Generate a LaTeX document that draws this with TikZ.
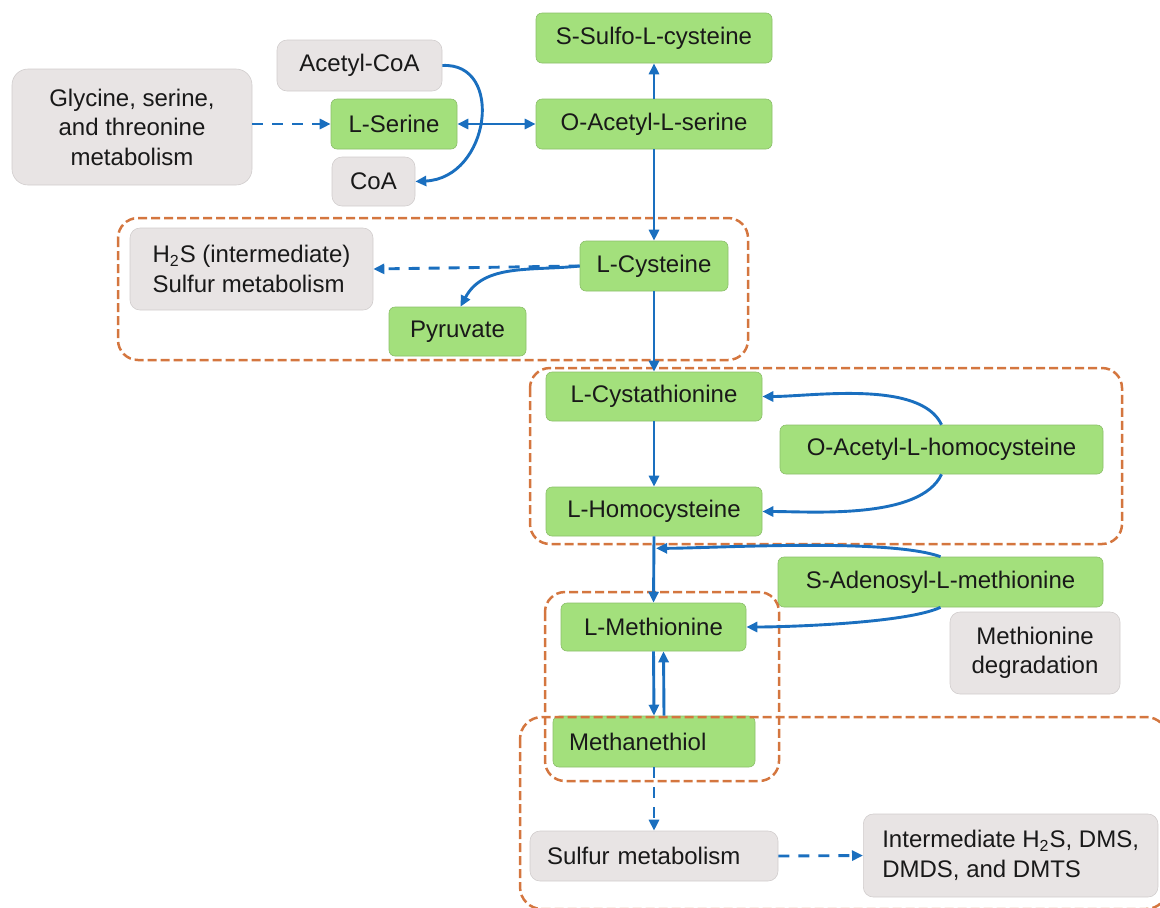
\documentclass[tikz,border=0pt]{standalone}
\usepackage{fontspec}
\setmainfont{Liberation Sans}
\usepackage{xcolor}
\usepackage{tikz}
\usetikzlibrary{arrows.meta,positioning,calc}

\definecolor{metgreen}{HTML}{A3E07C}
\definecolor{extgray}{HTML}{E8E4E4}
\definecolor{flowblue}{HTML}{1A6FBF}
\definecolor{grouporange}{HTML}{D4763F}

\begin{document}
\begin{tikzpicture}[
  x=0.5pt,y=-0.5pt,
  met/.style={
    fill=metgreen,
    draw=metgreen!85!black,
    line width=0.3pt,
    rounded corners=3pt,
    inner sep=2pt,
    font=\fontsize{12}{14.75}\selectfont,
    text=black!90
  },
  ext/.style={
    fill=extgray,
    draw=extgray!90!black,
    line width=0.3pt,
    rounded corners=5pt,
    inner sep=2pt,
    font=\fontsize{12}{14.75}\selectfont,
    text=black!90
  },
  flow/.style={
    draw=flowblue,
    line width=1.45pt,
    -{Triangle[length=5.5pt,width=5pt]}
  },
  biflow/.style={
    flow,
    {Triangle[length=5.5pt,width=5pt]}-{Triangle[length=5.5pt,width=5pt]}
  },
  flowdash/.style={flow, dash pattern=on 5.5pt off 4.5pt},
  group/.style={
    draw=grouporange,
    line width=1.25pt,
    dash pattern=on 4.5pt off 2pt,
    rounded corners=10pt
  },
]
\useasboundingbox (0,0) rectangle (1160,907);

% Nodes (serine / cysteine part)
\node[met, minimum width=118pt, minimum height=25pt] (Sulfo) at (654,38) {S-Sulfo-L-cysteine};
\node[met, minimum width=118pt, minimum height=25pt] (OAS) at (654,124) {O-Acetyl-L-serine};
\node[ext, minimum width=82.5pt, minimum height=25.5pt] (AcCoA) at (359.5,65.5) {Acetyl-CoA};
\node[met, minimum width=63pt, minimum height=25pt] (Ser) at (394,124) {L-Serine};
\node[ext, minimum width=41.5pt, minimum height=24.5pt] (CoA) at (373.5,181.5) {CoA};
\node[ext, rounded corners=8pt, minimum width=120pt, minimum height=58pt, align=center]
  (Gly) at (132,127) {Glycine, serine,\\and threonine\\metabolism};
\node[met, minimum width=74pt, minimum height=25pt] (Cys) at (654,266) {L-Cysteine};
\node[ext, minimum width=121.5pt, minimum height=41pt, align=left]
  (H2S) at (251.5,269) {H\textsubscript{2}S (intermediate)\\Sulfur metabolism};
\node[met, minimum width=68.5pt, minimum height=24.5pt] (Pyr) at (457.5,331.5) {Pyruvate};

% Nodes (methionine part)
\node[met, minimum width=108pt, minimum height=24.5pt] (Cysta) at (654,396.5) {L-Cystathionine};
\node[met, minimum width=161.5pt, minimum height=24.5pt] (OAH) at (941.5,449.5) {O-Acetyl-L-homocysteine};
\node[met, minimum width=108pt, minimum height=24.5pt] (Hcy) at (654,511.5) {L-Homocysteine};
\node[met, minimum width=162.5pt, minimum height=25pt] (SAM) at (940.5,582) {S-Adenosyl-L-methionine};
\node[ext, minimum width=85pt, minimum height=41pt, align=center]
  (MetDeg) at (1035,653) {Methionine\\degradation};
\node[met, minimum width=92.5pt, minimum height=24pt] (Met) at (653.5,627) {L-Methionine};
\node[met, minimum height=25.5pt, inner xsep=8pt, text width=85pt, align=left]
  (MeSH) at (654,741.5) {Methanethiol};
\node[ext, minimum height=25pt, inner xsep=8.5pt, text width=107pt, align=left]
  (SulfMet) at (654,856) {Sulfur metabolism};
\node[ext, anchor=west, minimum height=41.5pt, inner xsep=9.5pt, align=left]
  (Inter) at (863,855.5) {Intermediate H\textsubscript{2}S, DMS,\\DMDS, and DMTS};

% Dashed groups
\draw[group] (118,218) rectangle (748,360);
\draw[group] (530,368) rectangle (1122,544);
\draw[group] (545,592) rectangle (779,781);
\draw[group, rounded corners=11pt] (520,717) rectangle (1168,909);

% Serine arrows
\draw[flowdash] (Gly.east |- Ser) -- (Ser.west);
\draw[biflow] (Ser.east) -- (OAS.west);
\draw[flow] (AcCoA.east) .. controls (505,62) and (490,178) .. (CoA.east);
\draw[flow] (OAS.north) -- (Sulfo.south);
\draw[flow] (OAS.south) -- (Cys.north);

% Cysteine arrows
\draw[flowdash] (Cys.west) -- (H2S.east);
\draw[flow] (Cys.west) to[out=186,in=62] ($(Pyr.north)+(3,0)$);
\draw[flow] (Cys.south) -- (Cysta.north);

% Methionine arrows
\draw[flow] (Cysta.south) -- (Hcy.north);
\draw[flow] (OAH.north) to[out=115,in=0,looseness=0.7] (Cysta.east);
\draw[flow] (OAH.south) to[out=-115,in=0,looseness=0.7] (Hcy.east);
\draw[flow] (Hcy.south) -- (Met.north);
\coordinate (join) at ($(Hcy.south)+(2,12)$);
\draw[flow] (SAM.north) to[out=160,in=0,looseness=0.5] (join);
\draw[flow] (SAM.south) to[out=-155,in=0,looseness=0.5] (Met.east);
\draw[flow] (Met.south) -- (MeSH.north);
\draw[flow] ($(MeSH.north)+(10,0)$) -- ($(Met.south)+(10,0)$);

% Sulfur metabolism
\draw[flowdash] (MeSH.south) -- (SulfMet.north);
\draw[flowdash] (SulfMet.east) -- (Inter.west);

\end{tikzpicture}
\end{document}
